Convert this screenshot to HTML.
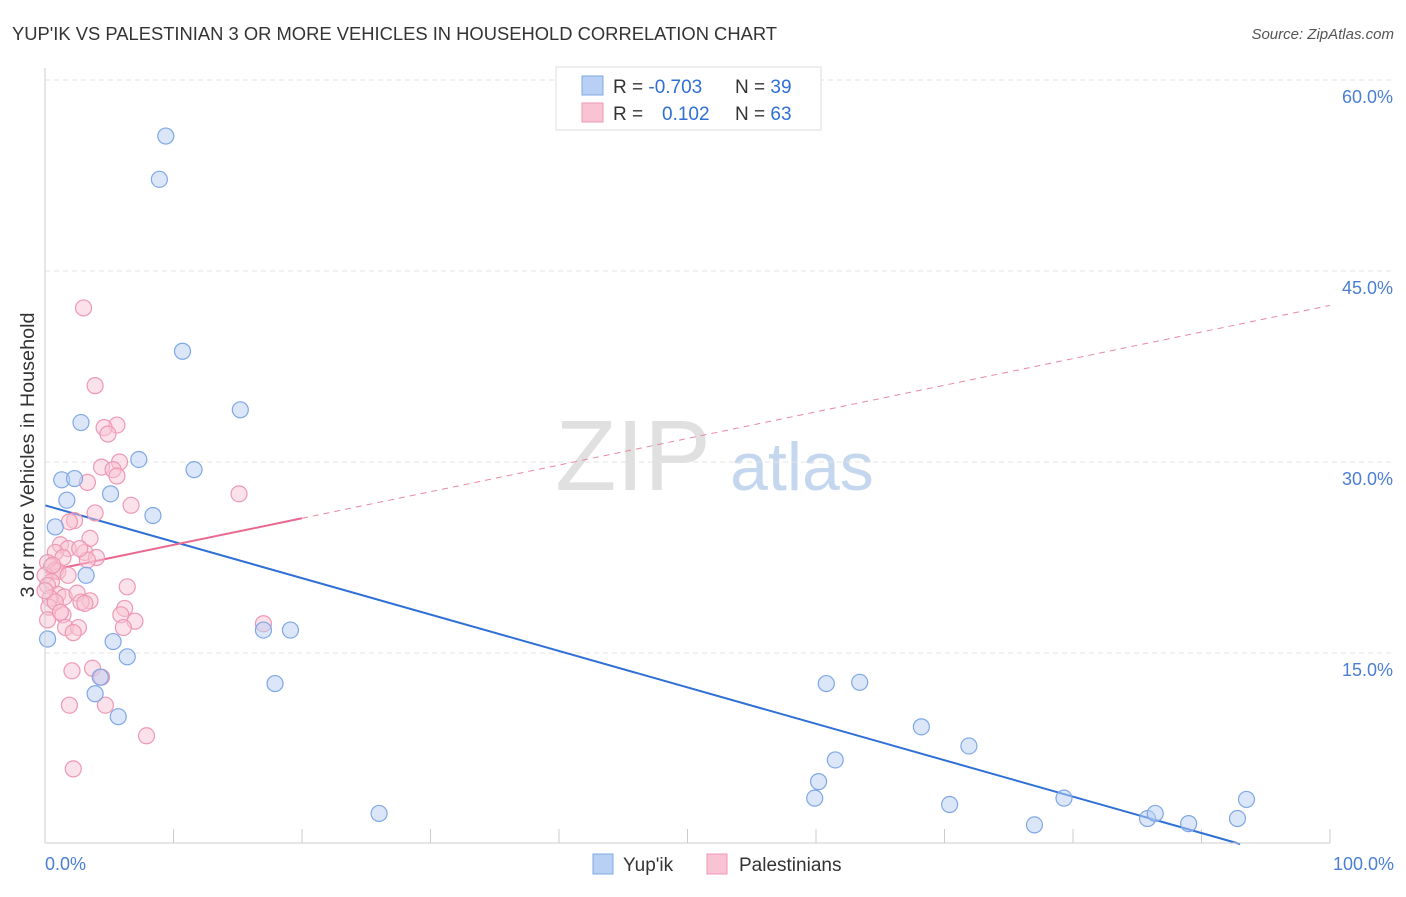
<!DOCTYPE html>
<html><head><meta charset="utf-8"><style>
body{margin:0;background:#fff;font-family:"Liberation Sans",sans-serif;}
svg text{font-family:"Liberation Sans",sans-serif;}
</style></head><body>
<svg id="c" width="1406" height="892" xmlns="http://www.w3.org/2000/svg">
<text x="12" y="40" font-size="18" fill="#333" textLength="765" lengthAdjust="spacingAndGlyphs">YUP'IK VS PALESTINIAN 3 OR MORE VEHICLES IN HOUSEHOLD CORRELATION CHART</text>
<text x="1394" y="39" font-size="15" fill="#555" text-anchor="end" font-style="italic">Source: ZipAtlas.com</text>
<text x="633" y="490" font-size="100" fill="#e0e0e0" text-anchor="middle" font-family="Liberation Serif,serif">ZIP</text>
<text x="802" y="490" font-size="68" fill="#c5d7ee" text-anchor="middle">atlas</text>
<text transform="translate(34,455) rotate(-90)" font-size="19" fill="#333" text-anchor="middle" textLength="285" lengthAdjust="spacingAndGlyphs">3 or more Vehicles in Household</text>
<g id="grid"></g><g id="ticks"></g><g id="lines"></g><g id="pts"></g>
<line x1="45" y1="68" x2="45" y2="843" stroke="#ccc"/>
<line x1="45" y1="843" x2="1330" y2="843" stroke="#ccc"/>
<text x="45" y="870" font-size="18" fill="#4a7fd4">0.0%</text>
<text x="1394" y="870" font-size="18" fill="#4a7fd4" text-anchor="end">100.0%</text>
<g>
<rect x="556" y="67" width="265" height="63" fill="#fff" stroke="#ddd"/>
<rect x="582" y="76" width="21" height="19" fill="#b8d0f3" stroke="#7fa7e6"/>
<rect x="582" y="103" width="21" height="19" fill="#f8c3d3" stroke="#ee98b4"/>
<text x="613" y="93" font-size="19" fill="#333">R = <tspan fill="#2f6fd6">-0.703</tspan></text>
<text x="735" y="93" font-size="19" fill="#333">N = <tspan fill="#2f6fd6">39</tspan></text>
<text x="613" y="120" font-size="19" fill="#333">R = <tspan fill="#2f6fd6" x="662">0.102</tspan></text>
<text x="735" y="120" font-size="19" fill="#333">N = <tspan fill="#2f6fd6">63</tspan></text>
</g>
<g><rect x="593" y="854" width="20" height="20" fill="#b8d0f3" stroke="#7fa7e6"/><text x="623" y="871" font-size="19" fill="#333">Yup'ik</text></g>
<g><rect x="707" y="854" width="20" height="20" fill="#f8c3d3" stroke="#ee98b4"/><text x="739" y="871" font-size="19" fill="#333">Palestinians</text></g>
</svg>
<script>
const yTicks=[15,30,45,60];
const xTicks=[0,10,20,30,40,50,60,70,80,90,100];
const blueX=[9.4,8.9,10.7,15.2,2.8,7.3,11.6,1.3,2.3,5.1,1.7,8.4,0.8,3.2,0.2,5.3,6.4,4.3,3.9,5.7,17.0,19.1,17.9,26.0,60.8,63.4,68.2,71.9,61.5,60.2,59.9,70.4,79.3,77.0,85.8,86.4,89.0,92.8,93.5];
const blueY=[55.6,52.2,38.7,34.1,33.1,30.2,29.4,28.6,28.7,27.5,27.0,25.8,24.9,21.1,16.1,15.9,14.7,13.1,11.8,10.0,16.8,16.8,12.6,2.4,12.6,12.7,9.2,7.7,6.6,4.9,3.6,3.1,3.6,1.5,2.0,2.4,1.6,2.0,3.5];
const pinkX=[3.0,3.9,5.6,4.6,4.9,5.8,4.4,5.3,5.6,3.3,15.1,6.7,3.9,2.3,1.9,3.5,1.2,1.8,0.8,3.1,4.0,1.4,3.3,0.2,0.5,0.8,1.0,0.0,1.8,0.5,0.2,6.4,1.0,1.5,2.5,0.4,3.5,2.8,3.1,6.2,0.3,1.4,5.9,7.0,1.6,17.0,6.1,2.6,2.2,3.7,2.1,4.4,1.9,4.7,7.9,2.2,0.8,0.2,1.2,2.7,0.0,0.6];
const pinkY=[42.1,36.0,32.9,32.7,32.2,30.0,29.6,29.4,28.9,28.4,27.5,26.6,26.0,25.4,25.3,24.0,23.5,23.2,22.9,22.9,22.5,22.5,22.3,22.1,21.8,21.5,21.4,21.1,21.1,20.6,20.3,20.2,19.6,19.4,19.7,19.3,19.1,19.0,18.9,18.5,18.6,18.0,18.0,17.5,17.0,17.3,17.0,17.0,16.6,13.8,13.6,13.1,10.9,10.9,8.5,5.9,19.0,17.6,18.2,23.2,19.9,21.9];
const blueFit=[26.6,-0.286];
const pinkFit=[21.4,0.209];
const NS='http://www.w3.org/2000/svg';
const sx=v=>45+v*12.85, sy=v=>844-v*12.733;
function mk(t,a,p){const e=document.createElementNS(NS,t);for(const k in a)e.setAttribute(k,a[k]);document.getElementById(p).appendChild(e);return e;}
yTicks.forEach(t=>{
 const l=mk('line',{x1:45,x2:1393,y1:sy(t),y2:sy(t),stroke:'#e3e3e3','stroke-dasharray':'5,4'},'grid');
 
 
 const tx=mk('text',{x:1393,y:sy(t)+23,'font-size':18,fill:'#4a7fd4','text-anchor':'end'},'grid');tx.textContent=t.toFixed(1)+'%';
 
 
});
xTicks.forEach(t=>{
 const l=mk('line',{x1:sx(t),x2:sx(t),y1:829,y2:843,stroke:'#ccc'},'ticks');
 
 
});
function pt(x,y,f,s,n){const c=mk('circle',{cx:sx(x),cy:sy(y),r:8,fill:f,'fill-opacity':0.5,stroke:s,'stroke-width':1.2},'pts');
 
 }
pinkX.forEach((x,i)=>pt(x,pinkY[i],'#f8c3d3','#ee98b4','palestinian-point'));
blueX.forEach((x,i)=>pt(x,blueY[i],'#b8d0f3','#7fa7e6','yupik-point'));
const bEnd=-blueFit[0]/blueFit[1];
let l=mk('line',{x1:sx(0),y1:sy(blueFit[0]),x2:sx(bEnd),y2:sy(0),stroke:'#2f6fd6','stroke-width':2},'lines');


l=mk('line',{x1:sx(0),y1:sy(pinkFit[0]),x2:sx(20),y2:sy(pinkFit[0]+20*pinkFit[1]),stroke:'#e8688f','stroke-width':2},'lines');


l=mk('line',{x1:sx(20),y1:sy(pinkFit[0]+20*pinkFit[1]),x2:sx(100),y2:sy(pinkFit[0]+100*pinkFit[1]),stroke:'#e8899f','stroke-width':1,'stroke-dasharray':'6,5'},'lines');


</script>
</body></html>
